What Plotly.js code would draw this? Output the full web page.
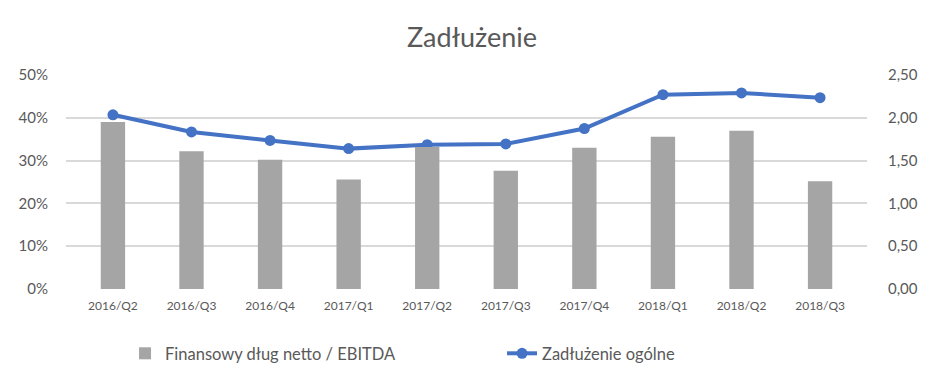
<!DOCTYPE html>
<html>
<head>
<meta charset="utf-8">
<script src="https://cdn.plot.ly/plotly-3.0.1.min.js"></script>
<style>html,body{margin:0;padding:0;background:#fff;}#chart{width:944px;height:371px;}</style>
</head>
<body>
<div id="chart"></div>
<script>
var categories = ['2016/Q2','2016/Q3','2016/Q4','2017/Q1','2017/Q2','2017/Q3','2017/Q4','2018/Q1','2018/Q2','2018/Q3'];
var debtToEbitda = [1.95, 1.61, 1.51, 1.28, 1.66, 1.38, 1.65, 1.78, 1.85, 1.26];
var totalDebtRatio = [0.407, 0.367, 0.347, 0.328, 0.337, 0.339, 0.375, 0.454, 0.458, 0.447];
var leftTicks = [0, 0.1, 0.2, 0.3, 0.4, 0.5];
var rightTicks = [0, 0.5, 1.0, 1.5, 2.0, 2.5];

var fontFam = 'Lato, "Open Sans", sans-serif';
var traces = [
  {
    type: 'bar', name: 'Finansowy dług netto / EBITDA',
    x: categories, y: debtToEbitda, yaxis: 'y2',
    marker: {color: '#A5A5A5'}
  },
  {
    type: 'scatter', mode: 'lines+markers', name: 'Zadłużenie ogólne',
    x: categories, y: totalDebtRatio, yaxis: 'y',
    line: {color: '#4472C4', width: 4},
    marker: {color: '#4472C4', size: 11}
  }
];
var layout = {
  width: 944, height: 371,
  margin: {l: 66, r: 77, t: 75, b: 82, autoexpand: false},
  paper_bgcolor: '#fff', plot_bgcolor: '#fff',
  separators: ', ',
  bargap: 0.69,
  showlegend: true,
  font: {family: fontFam, color: '#595959'},
  title: {text: 'Zadłużenie', x: 0.5, xanchor: 'center', y: 0.9, yanchor: 'middle',
          font: {family: fontFam, size: 27, color: '#595959'}},
  xaxis: {
    type: 'category', showgrid: false, zeroline: false, showline: false,
    ticks: '', tickfont: {size: 12, color: '#595959', family: fontFam}, ticklabelstandoff: 8
  },
  yaxis: {
    range: [0, 0.5], tickvals: leftTicks, tickformat: '.0%',
    showgrid: true, gridcolor: '#D9D9D9', gridwidth: 2, zeroline: false, showline: false,
    tickfont: {size: 15, color: '#595959', family: fontFam}, ticks: '', ticklabelstandoff: 17
  },
  yaxis2: {
    range: [0, 2.5], tickvals: rightTicks, tickformat: '.2f',
    overlaying: 'y', side: 'right', showgrid: false, zeroline: false, showline: false,
    tickfont: {size: 15, color: '#595959', family: fontFam}, ticks: '', ticklabelstandoff: 20
  },
  legend: {
    orientation: 'h', x: 0.0737, xanchor: 'left', y: -0.22, yanchor: 'top',
    font: {size: 16.5, color: '#595959', family: fontFam},
    itemwidth: 30, traceorder: 'normal', entrywidth: 332
  }
};
Plotly.newPlot('chart', traces, layout, {displayModeBar: false, staticPlot: true});
</script>
</body>
</html>
